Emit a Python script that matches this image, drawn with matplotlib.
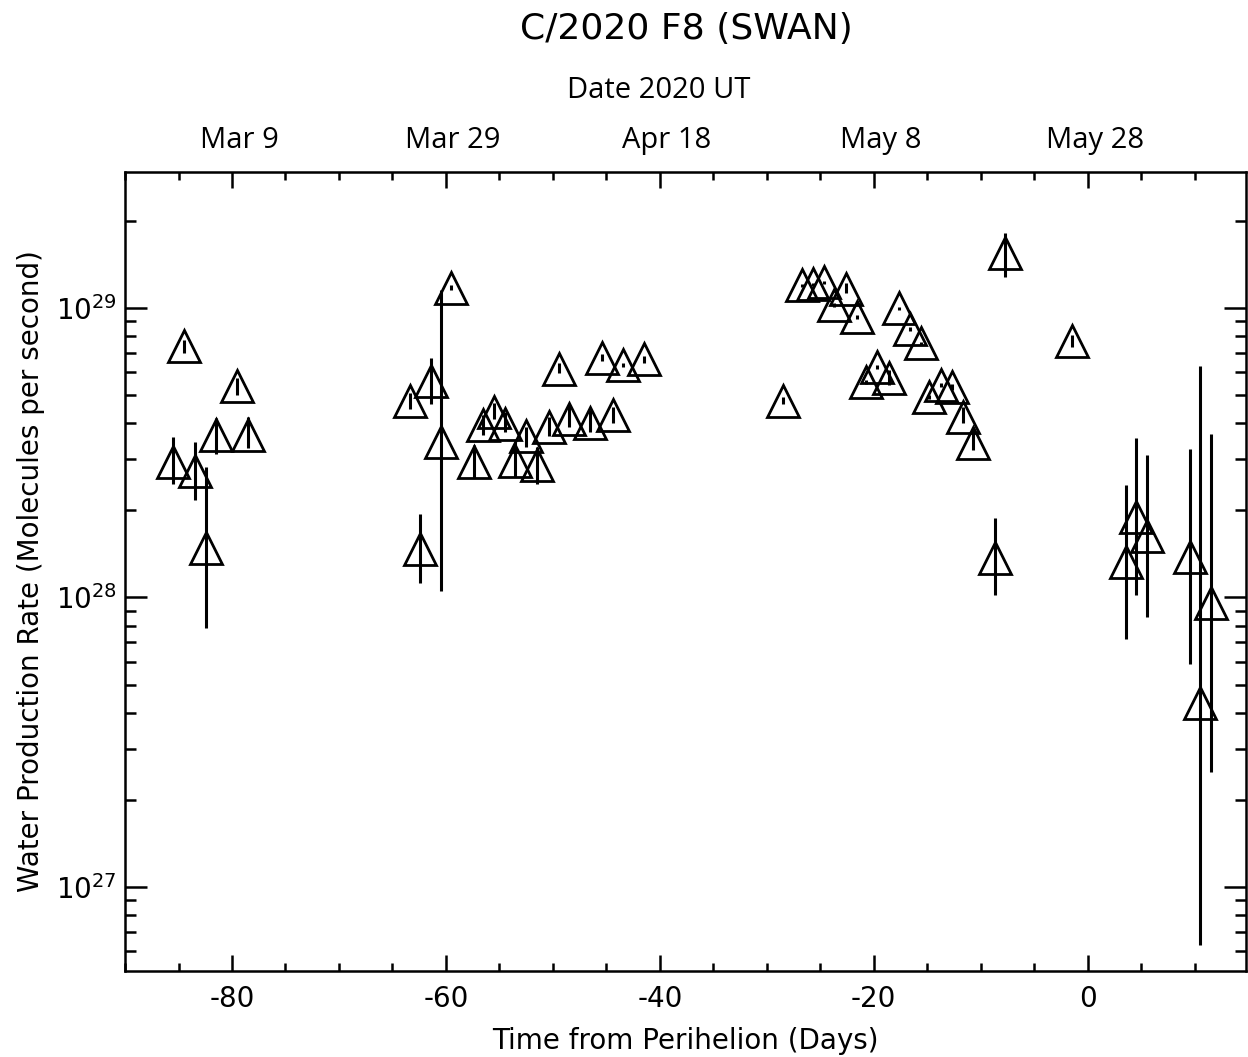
import numpy as np
import matplotlib.pyplot as plt
from matplotlib.ticker import MultipleLocator, LogLocator, LogFormatterMathtext
from matplotlib.transforms import ScaledTranslation

plt.rcParams['axes.unicode_minus'] = False
plt.rcParams['font.family'] = ['DejaVu Sans']

# Time from perihelion (days)
days = [-85.5, -84.5, -83.5, -82.4, -81.5, -79.5, -78.5,
        -63.4, -62.4, -61.4, -60.5, -59.5, -57.4, -56.5, -55.5, -54.5,
        -53.5, -52.5, -51.5, -50.4, -49.4, -48.5, -46.5, -45.4, -44.4,
        -43.4, -41.5,
        -28.5, -26.7, -25.7, -24.7, -23.7, -22.6, -21.6, -20.7, -19.7,
        -18.6, -17.6, -16.6, -15.6, -14.8, -13.7, -12.7, -11.7, -10.7,
        -8.7, -7.7, -1.5,
        3.55, 4.55, 5.54, 9.53, 10.53, 11.5]

# Water production rate, units of 1e28 molecules/s
q_h2o = [2.94, 7.39, 2.74, 1.48, 3.64, 5.38, 3.65,
         4.78, 1.47, 5.62, 3.46, 11.77, 2.94, 3.93, 4.39, 3.99,
         2.97, 3.62, 2.86, 3.89, 6.17, 4.13, 4.01, 6.74, 4.26,
         6.35, 6.65,
         4.79, 12.00, 12.09, 12.27, 10.24, 11.66, 9.32, 5.55, 6.28,
         5.75, 9.98, 8.46, 7.55, 4.93, 5.43, 5.34, 4.20, 3.41,
         1.37, 15.5, 7.69,
         1.33, 1.90, 1.63, 1.38, 0.433, 0.955]

q_low = [2.46, 6.99, 2.18, 0.787, 3.12, 5.00, 3.28,
         4.47, 1.12, 4.66, 1.057, 11.55, 2.58, 3.64, 4.13, 3.72,
         2.60, 3.30, 2.46, 3.61, 5.96, 3.87, 3.72, 6.56, 4.00,
         6.25, 6.45,
         4.66, 11.85, 11.95, 12.10, 10.10, 11.27, 9.18, 5.45, 6.18,
         5.42, 9.85, 8.35, 7.45, 4.85, 5.33, 5.22, 4.00, 3.23,
         1.016, 12.8, 7.33,
         0.719, 1.02, 0.855, 0.589, 0.0627, 0.250]

q_high = [3.58, 7.75, 3.44, 2.82, 4.16, 5.73, 4.20,
          5.08, 1.95, 6.73, 11.54, 12.0, 3.36, 4.26, 4.69, 4.37,
          3.44, 3.87, 3.30, 4.20, 6.45, 4.62, 4.44, 6.93, 4.54,
          6.45, 6.82,
          4.93, 12.15, 12.25, 12.45, 10.40, 12.20, 9.46, 5.65, 6.38,
          6.10, 10.12, 8.58, 7.66, 5.02, 5.53, 5.46, 4.54, 3.87,
          1.88, 18.2, 8.07,
          2.45, 3.55, 3.10, 3.26, 6.31, 3.67]

# top axis dates (days from perihelion, May 28)
date_days = [-80, -60, -40, -20, 0]
date_labels = ["Mar 9", "Mar 29", "Apr 18", "May 8", "May 28"]

x = np.array(days)
y = np.array(q_h2o) * 1e28
ylo = np.array(q_low) * 1e28
yhi = np.array(q_high) * 1e28

fig = plt.figure(figsize=(12.48, 10.57), dpi=100)
ax = fig.add_axes([0.1002, 0.0814, 0.8982, 0.7559])

ax.errorbar(x, y, yerr=[y - ylo, yhi - y], fmt='^', ms=23.5, mfc='none',
            mec='black', mew=2.0, ecolor='black', elinewidth=2.2, capsize=0)

ax.set_yscale('log')
ax.set_xlim(-90, 14.8)
ax.set_ylim(5.12e26, 2.955e29)

ax.xaxis.set_major_locator(MultipleLocator(20))
ax.xaxis.set_minor_locator(MultipleLocator(5))
ax.yaxis.set_major_locator(LogLocator(base=10))
ax.yaxis.set_minor_locator(LogLocator(base=10, subs=np.arange(2, 10)))
ax.yaxis.set_major_formatter(LogFormatterMathtext())

for s in ax.spines.values():
    s.set_linewidth(1.8)

ax.tick_params(axis='both', which='both', direction='in', top=True, right=True,
               width=1.8, labelsize=20)
ax.tick_params(axis='x', which='major', length=11.5, pad=10)
ax.tick_params(axis='x', which='minor', length=5.8)
ax.tick_params(axis='y', which='major', length=16, pad=6)
ax.tick_params(axis='y', which='minor', length=8)

ax.set_xlabel("Time from Perihelion (Days)", fontsize=20, labelpad=10)
ax.set_ylabel("Water Production Rate (Molecules per second)", fontsize=20,
              labelpad=8)

# top date axis
top = ax.secondary_xaxis('top')
top.set_xticks(date_days)
top.set_xticklabels(date_labels, fontsize=21, family=['Open Sans', 'DejaVu Sans'])
top.tick_params(axis='x', which='both', direction='in', length=0, pad=12)
shift = ScaledTranslation(7 / 100, 0, fig.dpi_scale_trans)
for lbl in top.get_xticklabels():
    lbl.set_transform(lbl.get_transform() + shift)

fig.text(659 / 1248, 1 - 90 / 1057, "Date 2020 UT", fontsize=21,
         family=['Open Sans', 'DejaVu Sans'], ha='center', va='center')
fig.text(686 / 1248, 1 - 29 / 1057, "C/2020 F8 (SWAN)", fontsize=26,
         ha='center', va='center')

fig.savefig("out.png", dpi=100)
